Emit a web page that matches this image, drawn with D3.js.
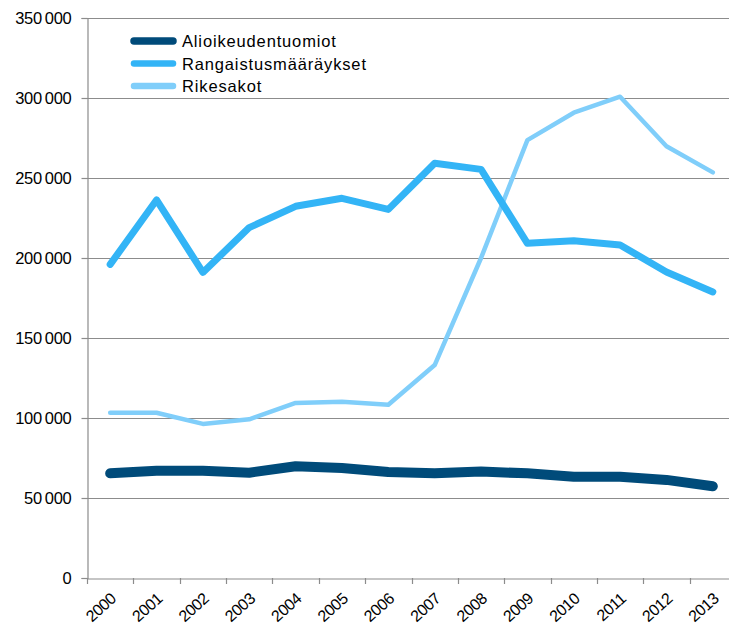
<!DOCTYPE html>
<html>
<head>
<meta charset="utf-8">
<script src="https://cdn.jsdelivr.net/npm/d3@7"></script>
<style>
  body { margin: 0; background: #fff; }
  svg { display: block; }
  text { font-family: "Liberation Sans", Arial, sans-serif; fill: #000; }
</style>
</head>
<body>
<div id="chart"></div>
<script>
var years = ["2000","2001","2002","2003","2004","2005","2006","2007","2008","2009","2010","2011","2012","2013"];
var alioikeus = [65400, 67000, 67000, 65800, 69800, 68800, 66300, 65400, 66500, 65400, 63300, 63300, 61300, 57300];
var rangaistus = [196000, 236300, 191000, 219000, 232300, 237300, 230400, 259200, 255400, 209200, 210800, 208100, 191300, 178800];
var rikesakot = [103300, 103300, 96300, 99200, 109400, 110200, 108300, 133100, 200000, 273700, 290800, 300800, 269800, 253500];
var seriesNames = ["Alioikeudentuomiot", "Rangaistusmääräykset", "Rikesakot"];
var yTicks = [0, 50000, 100000, 150000, 200000, 250000, 300000, 350000];

var colors = ["#004b7a", "#33b4f6", "#80cefa"];
var widths = [10, 7, 4.5];

var width = 729, height = 626;
var margin = {top: 18, right: -7, bottom: 48, left: 87};

var svg = d3.select("#chart").append("svg")
  .attr("width", width)
  .attr("height", height);

var x = d3.scaleBand()
  .domain(years)
  .range([margin.left, width - margin.right]);

var y = d3.scaleLinear()
  .domain([0, 350000])
  .range([height - margin.bottom, margin.top]);

var fmt = function(d) {
  return d3.format(",")(d).replace(/,/g, "\u2009");
};

// gridlines
svg.append("g").selectAll("line")
  .data(yTicks.filter(function(d) { return d > 0; }))
  .enter().append("line")
  .attr("x1", margin.left)
  .attr("x2", width)
  .attr("y1", function(d) { return Math.round(y(d)) + 0.5; })
  .attr("y2", function(d) { return Math.round(y(d)) + 0.5; })
  .attr("stroke", "#8c8c8c")
  .attr("stroke-width", 1.2);

// y axis
var yAxis = svg.append("g")
  .attr("transform", "translate(" + (margin.left + 0.5) + ",0)")
  .call(d3.axisLeft(y).tickValues(yTicks).tickFormat(fmt).tickSize(6).tickPadding(10));
yAxis.select(".domain").attr("stroke", "#8c8c8c").attr("stroke-width", 1.2);
yAxis.selectAll(".tick line").attr("stroke", "#8c8c8c").attr("stroke-width", 1.2);
yAxis.selectAll("text")
  .attr("dy", "0.36em")
  .style("font-size", "16.5px")
  .attr("letter-spacing", "-0.3px");

// x axis
var xAxis = svg.append("g")
  .attr("transform", "translate(0," + (Math.round(y(0)) + 0.5) + ")")
  .call(d3.axisBottom(x).tickSize(0).tickFormat(""));
xAxis.select(".domain").attr("stroke", "#8c8c8c").attr("stroke-width", 1.2);

// boundary ticks between categories
var bounds = years.map(function(d) { return x(d); });
svg.append("g").selectAll("line")
  .data(bounds)
  .enter().append("line")
  .attr("x1", function(d) { return Math.round(d) + 0.5; })
  .attr("x2", function(d) { return Math.round(d) + 0.5; })
  .attr("y1", y(0))
  .attr("y2", y(0) + 6)
  .attr("stroke", "#8c8c8c")
  .attr("stroke-width", 1.2);

svg.append("g").selectAll("text")
  .data(years)
  .enter().append("text")
  .attr("transform", function(d) {
    var cx = x(d) + x.bandwidth() / 2 + 7;
    return "translate(" + cx + "," + (y(0) + 22) + ") rotate(-42)";
  })
  .attr("text-anchor", "end")
  .style("font-size", "16px")
  .attr("letter-spacing", "-0.4px")
  .text(function(d) { return d; });

// lines
var line = d3.line()
  .x(function(d, i) { return x(years[i]) + x.bandwidth() / 2; })
  .y(function(d) { return y(d); });

var allSeries = [alioikeus, rangaistus, rikesakot];
// draw in reverse so dark line ends on top
[2, 1, 0].forEach(function(i) {
  svg.append("path")
    .datum(allSeries[i])
    .attr("fill", "none")
    .attr("stroke", colors[i])
    .attr("stroke-width", widths[i])
    .attr("stroke-linejoin", "round")
    .attr("stroke-linecap", "round")
    .attr("d", line);
});

// legend
var legend = svg.append("g");
seriesNames.forEach(function(name, i) {
  var ly = 41 + i * 22.5;
  legend.append("line")
    .attr("x1", 134).attr("x2", 173)
    .attr("y1", ly).attr("y2", ly)
    .attr("stroke", colors[i])
    .attr("stroke-width", i === 0 ? 7.5 : 6.5)
    .attr("stroke-linecap", "round");
  legend.append("text")
    .attr("x", 182)
    .attr("y", ly + 6)
    .style("font-size", "16.5px")
    .attr("letter-spacing", "0.85px")
    .text(name);
});
</script>
</body>
</html>
